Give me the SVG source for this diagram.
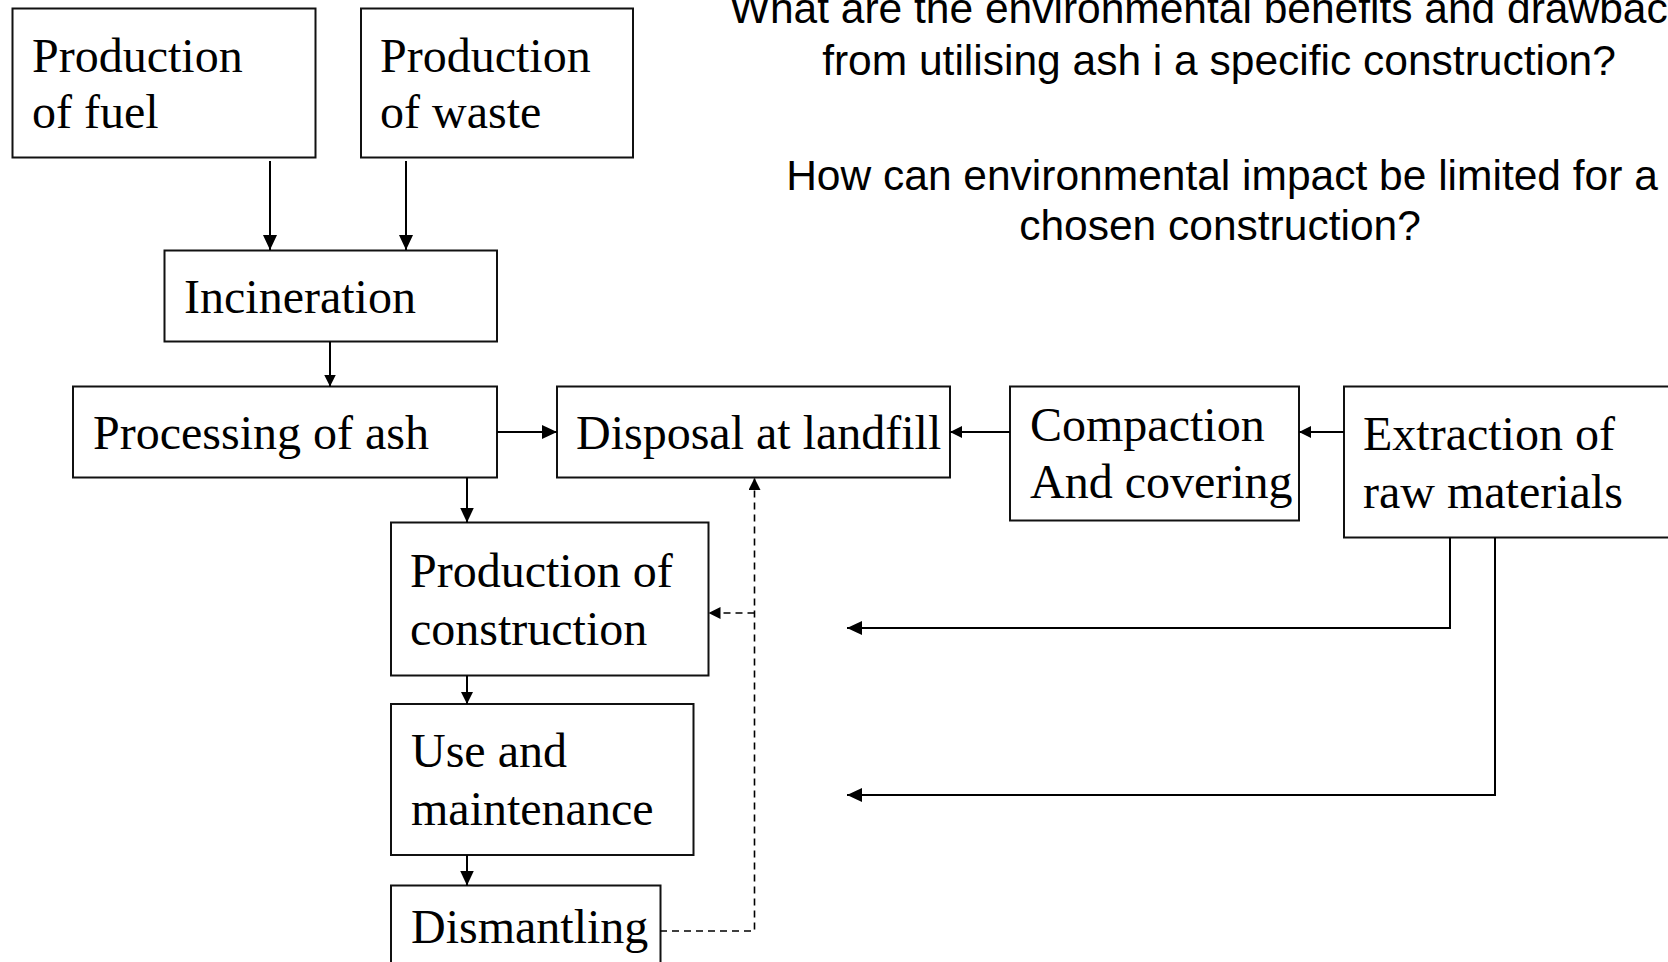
<svg xmlns="http://www.w3.org/2000/svg" width="1668" height="962" viewBox="0 0 1668 962">
  <style>
    .box { fill: #ffffff; stroke: #111111; stroke-width: 2; }
    .lbl { font-family: "Liberation Serif", "Times New Roman", serif; font-size: 48px; fill: #000000; }
    .q { font-family: "Liberation Sans", Arial, sans-serif; font-size: 42.5px; fill: #000000; text-anchor: middle; }
    .wire { fill: none; stroke: #000000; stroke-width: 2; }
    .dash { fill: none; stroke: #000000; stroke-width: 1.6; stroke-dasharray: 7 5; }
  </style>
  <defs>
    <marker id="arrow" markerUnits="userSpaceOnUse" markerWidth="15" markerHeight="14" refX="15" refY="7" orient="auto">
      <path d="M0,0 L15,7 L0,14 Z" fill="#000000"/>
    </marker>
    <marker id="arrow-sm" markerUnits="userSpaceOnUse" markerWidth="12" markerHeight="12" refX="12" refY="6" orient="auto">
      <path d="M0,0 L12,6 L0,12 Z" fill="#000000"/>
    </marker>
  </defs>

  <rect width="1668" height="962" fill="#ffffff"/>

  <!-- Research questions -->
  <g id="questions">
    <text class="q" x="1220" y="23">What are the environmental benefits and drawbacks</text>
    <text class="q" x="1219" y="75">from utilising ash i a specific construction?</text>
    <text class="q" x="1222" y="190">How can environmental impact be limited for a</text>
    <text class="q" x="1220" y="240">chosen construction?</text>
  </g>

  <!-- Process steps -->
  <g id="fuel">
    <rect class="box" x="12.5" y="8.5" width="303" height="149"/>
    <text class="lbl" x="32" y="72">Production</text>
    <text class="lbl" x="32" y="128">of fuel</text>
  </g>
  <g id="waste">
    <rect class="box" x="361" y="8.5" width="272" height="149"/>
    <text class="lbl" x="380" y="72">Production</text>
    <text class="lbl" x="380" y="128">of waste</text>
  </g>
  <g id="incineration">
    <rect class="box" x="164.5" y="250.5" width="332.5" height="91"/>
    <text class="lbl" x="184" y="313">Incineration</text>
  </g>
  <g id="processing">
    <rect class="box" x="73" y="386.5" width="424" height="91"/>
    <text class="lbl" x="93" y="449">Processing of ash</text>
  </g>
  <g id="landfill">
    <rect class="box" x="557" y="386.5" width="393" height="91"/>
    <text class="lbl" x="576" y="449">Disposal at landfill</text>
  </g>
  <g id="compaction">
    <rect class="box" x="1010" y="386.5" width="289" height="134"/>
    <text class="lbl" x="1030" y="441">Compaction</text>
    <text class="lbl" x="1030" y="498">And covering</text>
  </g>
  <g id="extraction">
    <rect class="box" x="1344" y="386.5" width="400" height="151"/>
    <text class="lbl" x="1363" y="450">Extraction of</text>
    <text class="lbl" x="1363" y="508">raw materials</text>
  </g>
  <g id="construction">
    <rect class="box" x="391" y="522.5" width="317.5" height="153"/>
    <text class="lbl" x="410" y="587">Production of</text>
    <text class="lbl" x="410" y="645">construction</text>
  </g>
  <g id="use">
    <rect class="box" x="391" y="704" width="302.5" height="151"/>
    <text class="lbl" x="411" y="767">Use and</text>
    <text class="lbl" x="411" y="825">maintenance</text>
  </g>
  <g id="dismantling">
    <rect class="box" x="391" y="885.5" width="269.5" height="110"/>
    <text class="lbl" x="411" y="943">Dismantling</text>
  </g>

  <!-- Flows between steps -->
  <g id="connectors">
    <path class="wire" d="M270,161 V250" marker-end="url(#arrow)"/>
    <path class="wire" d="M406,161 V250" marker-end="url(#arrow)"/>
    <path class="wire" d="M330,341.5 V386.5" marker-end="url(#arrow-sm)"/>
    <path class="wire" d="M497,432 H557" marker-end="url(#arrow)"/>
    <path class="wire" d="M467,477.5 V522.5" marker-end="url(#arrow)"/>
    <path class="wire" d="M1010,432 H950" marker-end="url(#arrow-sm)"/>
    <path class="wire" d="M1344,432 H1299" marker-end="url(#arrow-sm)"/>
    <path class="wire" d="M1450,537.5 V628 H847" marker-end="url(#arrow)"/>
    <path class="wire" d="M1495,537.5 V795 H847" marker-end="url(#arrow)"/>
    <path class="wire" d="M467,675.5 V704" marker-end="url(#arrow-sm)"/>
    <path class="wire" d="M467,855 V885.5" marker-end="url(#arrow)"/>
    <path class="dash" d="M660,931 H754.5 V478" marker-end="url(#arrow-sm)"/>
    <path class="dash" d="M754.5,613 H708.5" marker-end="url(#arrow-sm)"/>
  </g>
</svg>
